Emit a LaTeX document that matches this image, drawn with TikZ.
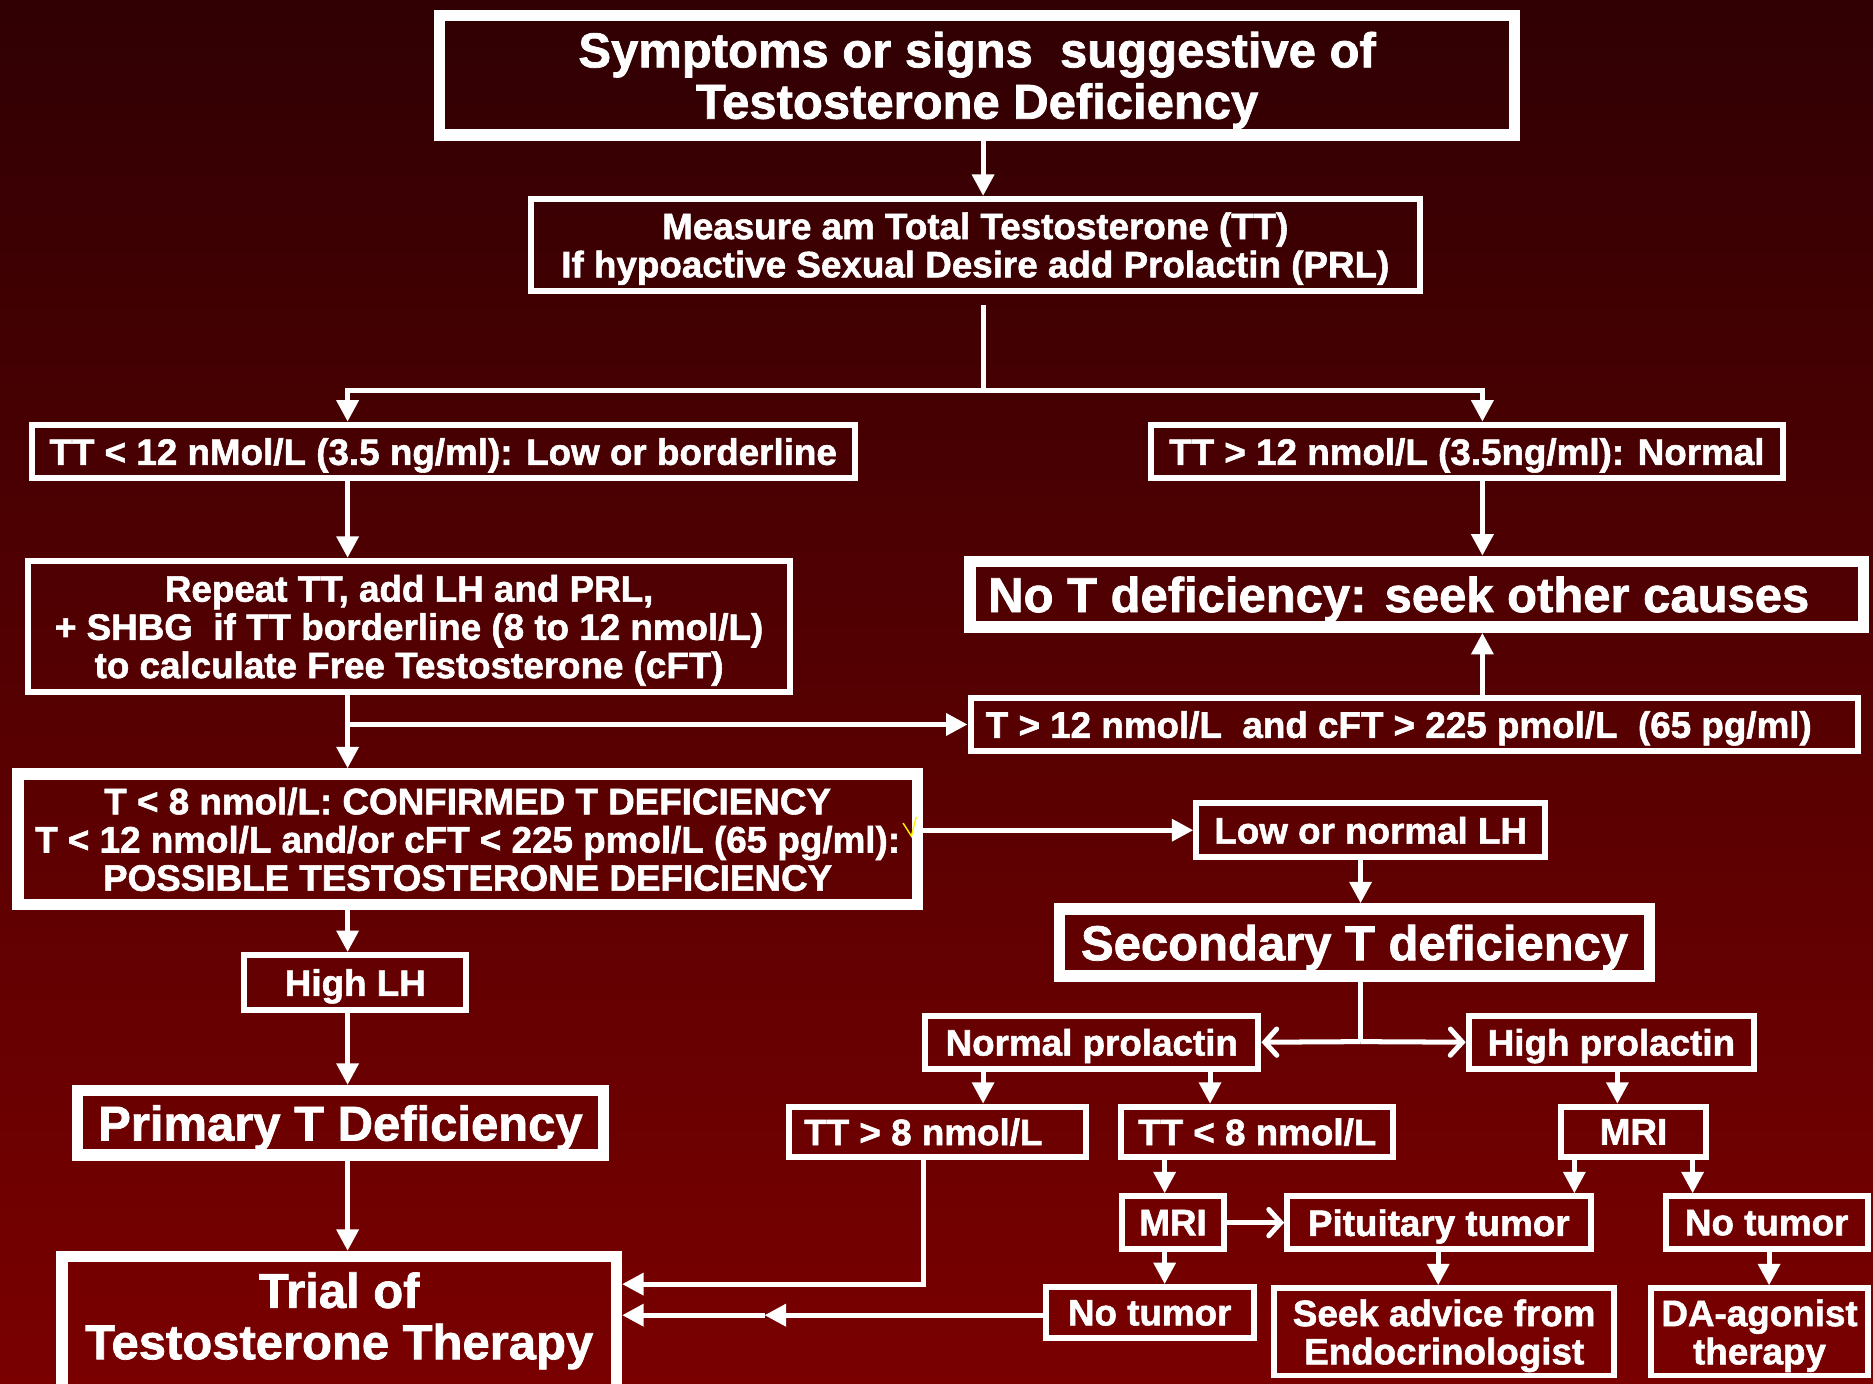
\documentclass[tikz,border=0pt]{standalone}
\usepackage{fontspec}
\setmainfont{Liberation Sans}[BoldFeatures={FakeBold=1.5}]
\usetikzlibrary{arrows.meta,calc}
\definecolor{bgtop}{RGB}{48,0,3}
\definecolor{bgbot}{RGB}{122,0,0}
\tikzset{
  box/.style={draw=white, line width=2.5pt, text=white, align=center, inner sep=0pt,
    text depth=0pt, font=\fontsize{15.4}{16}\selectfont\bfseries},
  thickbox/.style={box, line width=4.8pt},
  bigbox/.style={box, line width=4.8pt, font=\fontsize{20.5}{21.5}\selectfont\bfseries},
  wh/.style 2 args={minimum width=#1*0.5pt, minimum height=#2*0.5pt},
  con/.style={draw=white, line width=2.1pt},
  arr/.style={con, -{Triangle[length=9pt,width=9pt]}},
  chev/.style={con, -{Straight Barb[length=5pt,width=11pt,line cap=round]}},
}
\begin{document}
\begin{tikzpicture}[x=0.5pt,y=-0.5pt]
\useasboundingbox (0,0) rectangle (1568,1158);
\clip (0,0) rectangle (1568,1158);
\fill[top color=bgtop, bottom color=bgbot] (0,0) rectangle (1568,1158);

% nodes
\node[bigbox, wh={900}{100}] (top) at (818,63) {Symptoms or signs~ suggestive of\\Testosterone Deficiency};
\node[box, wh={744}{77}] (measure) at (816.5,205) {Measure am Total Testosterone (TT)\\If hypoactive Sexual Desire add Prolactin (PRL)};
\node[box, wh={689}{45}] (lowTT) at (371,378) {TT < 12 nMol/L (3.5 ng/ml): Low or borderline};
\node[box, wh={529}{45}] (normTT) at (1228,378) {TT > 12 nmol/L (3.5ng/ml): Normal};
\node[box, wh={638}{110}] (repeat) at (342.5,524.5) {Repeat TT, add LH and PRL,\\+ SHBG~ if TT borderline (8 to 12 nmol/L)\\to calculate Free Testosterone (cFT)};
\node[bigbox, wh={748}{55}] (noT) at (1186,497.5) {No T deficiency: seek other causes\rule{15pt}{0pt}};
\node[box, wh={743}{44}] (cft) at (1184,606.5) {T > 12 nmol/L~ and cFT > 225 pmol/L~ (65 pg/ml)\rule{13pt}{0pt}};
\node[thickbox, wh={753}{109}] (conf) at (391.5,702.5) {T < 8 nmol/L: CONFIRMED T DEFICIENCY\\T < 12 nmol/L and/or cFT < 225 pmol/L (65 pg/ml):\\POSSIBLE TESTOSTERONE DEFICIENCY};
\node[box, wh={292}{45}] (lowLH) at (1147.5,695) {Low or normal LH};
\node[bigbox, wh={494}{56}] (sec) at (1134,789) {Secondary T deficiency};
\node[box, wh={279}{44}] (normPRL) at (914,872.5) {Normal prolactin};
\node[box, wh={239}{44}] (highPRL) at (1349,872.5) {High prolactin};
\node[box, wh={249}{42}] (tthi) at (785,947.5) {TT > 8 nmol/L\rule{12pt}{0pt}};
\node[box, wh={228}{42}] (ttlo) at (1052.5,947.5) {TT < 8 nmol/L};
\node[box, wh={122}{42}] (mri1) at (1367.5,947.5) {MRI};
\node[box, wh={85}{44}] (mri2) at (982,1023.5) {MRI};
\node[box, wh={254}{44}] (pit) at (1204.5,1023.5) {Pituitary tumor};
\node[box, wh={169}{44}] (nt1) at (1479,1023.5) {No tumor};
\node[box, wh={174}{43}] (nt2) at (962.5,1099) {No tumor};
\node[box, wh={285}{73}] (seek) at (1209,1115) {Seek advice from\\Endocrinologist};
\node[box, wh={181}{73}] (da) at (1473,1115) {DA-agonist\\therapy};
\node[box, wh={186}{46}] (highLH) at (297.5,822.5) {High LH};
\node[bigbox, wh={440}{54}] (prim) at (285,940) {Primary T Deficiency};
\node[bigbox, wh={464}{160}] (trial) at (284,1132) {Trial of\\Testosterone Therapy\\[9pt]\mbox{}};

% helper coordinates
\coordinate (xL) at (291,0);
\coordinate (xR) at (1241,0);
\coordinate (xS) at (1139,0);
\coordinate (sp) at (823,327);
\coordinate (sp2) at (1139,872);
\coordinate (x823) at (823,0);
\coordinate (x1013) at (1013,0);
\coordinate (x1354) at (1354,0);
\coordinate (x975) at (975,0);
\coordinate (x1318) at (1318,0);
\coordinate (x1417) at (1417,0);
\coordinate (x1204) at (1204,0);
\coordinate (x1481) at (1481,0);
\coordinate (c1) at (773,1075);
\coordinate (c2) at (640,1101);

% connectors
\draw[arr] ([xshift=2.5pt]top.south) -- ([xshift=2.5pt]top.south |- measure.north);
\draw[con] ([yshift=-4.75pt]measure.south -| sp) -- (sp);
\draw[arr] (sp) -| (xL |- lowTT.north);
\draw[arr] (sp) -| (xR |- normTT.north);
\draw[arr] (xL |- lowTT.south) -- (xL |- repeat.north);
\draw[arr] (xR |- normTT.south) -- (xR |- noT.north);
\draw[arr] (xR |- cft.north) -- (xR |- noT.south);
\draw[arr] (xL |- repeat.south) -- (xL |- conf.north);
\draw[arr] (xL |- cft.west) -- (cft.west);
\draw[arr] (conf.east |- lowLH.west) -- (lowLH.west);
\draw[arr] (xS |- lowLH.south) -- (xS |- sec.north);
\draw[con] (xS |- sec.south) -- (sp2);
\draw[chev] (sp2) -- (normPRL.east);
\draw[chev] (sp2) -- (highPRL.west);
\draw[arr] (x823 |- normPRL.south) -- (x823 |- tthi.north);
\draw[arr] (x1013 |- normPRL.south) -- (x1013 |- ttlo.north);
\draw[arr] (x1354 |- highPRL.south) -- (x1354 |- mri1.north);
\draw[arr] (x975 |- ttlo.south) -- (x975 |- mri2.north);
\draw[chev] (mri2.east) -- (pit.west);
\draw[arr] (x1318 |- mri1.south) -- (x1318 |- pit.north);
\draw[arr] (x1417 |- mri1.south) -- (x1417 |- nt1.north);
\draw[arr] (x975 |- mri2.south) -- (x975 |- nt2.north);
\draw[arr] (x1204 |- pit.south) -- (x1204 |- seek.north);
\draw[arr] (x1481 |- nt1.south) -- (x1481 |- da.north);
\draw[arr] (xL |- conf.south) -- (xL |- highLH.north);
\draw[arr] (xL |- highLH.south) -- (xL |- prim.north);
\draw[arr] (xL |- prim.south) -- (xL |- trial.north);
\draw[arr] (c1 |- tthi.south) |- (trial.east |- c1);
\draw[arr] (nt2.west |- c2) -- (c2);
\draw[arr] (c2) -- (trial.east |- c2);

% small yellow mark
\draw[yellow, line width=0.6pt] (756,689) -- (763,700) -- (767,684);
\end{tikzpicture}
\end{document}
